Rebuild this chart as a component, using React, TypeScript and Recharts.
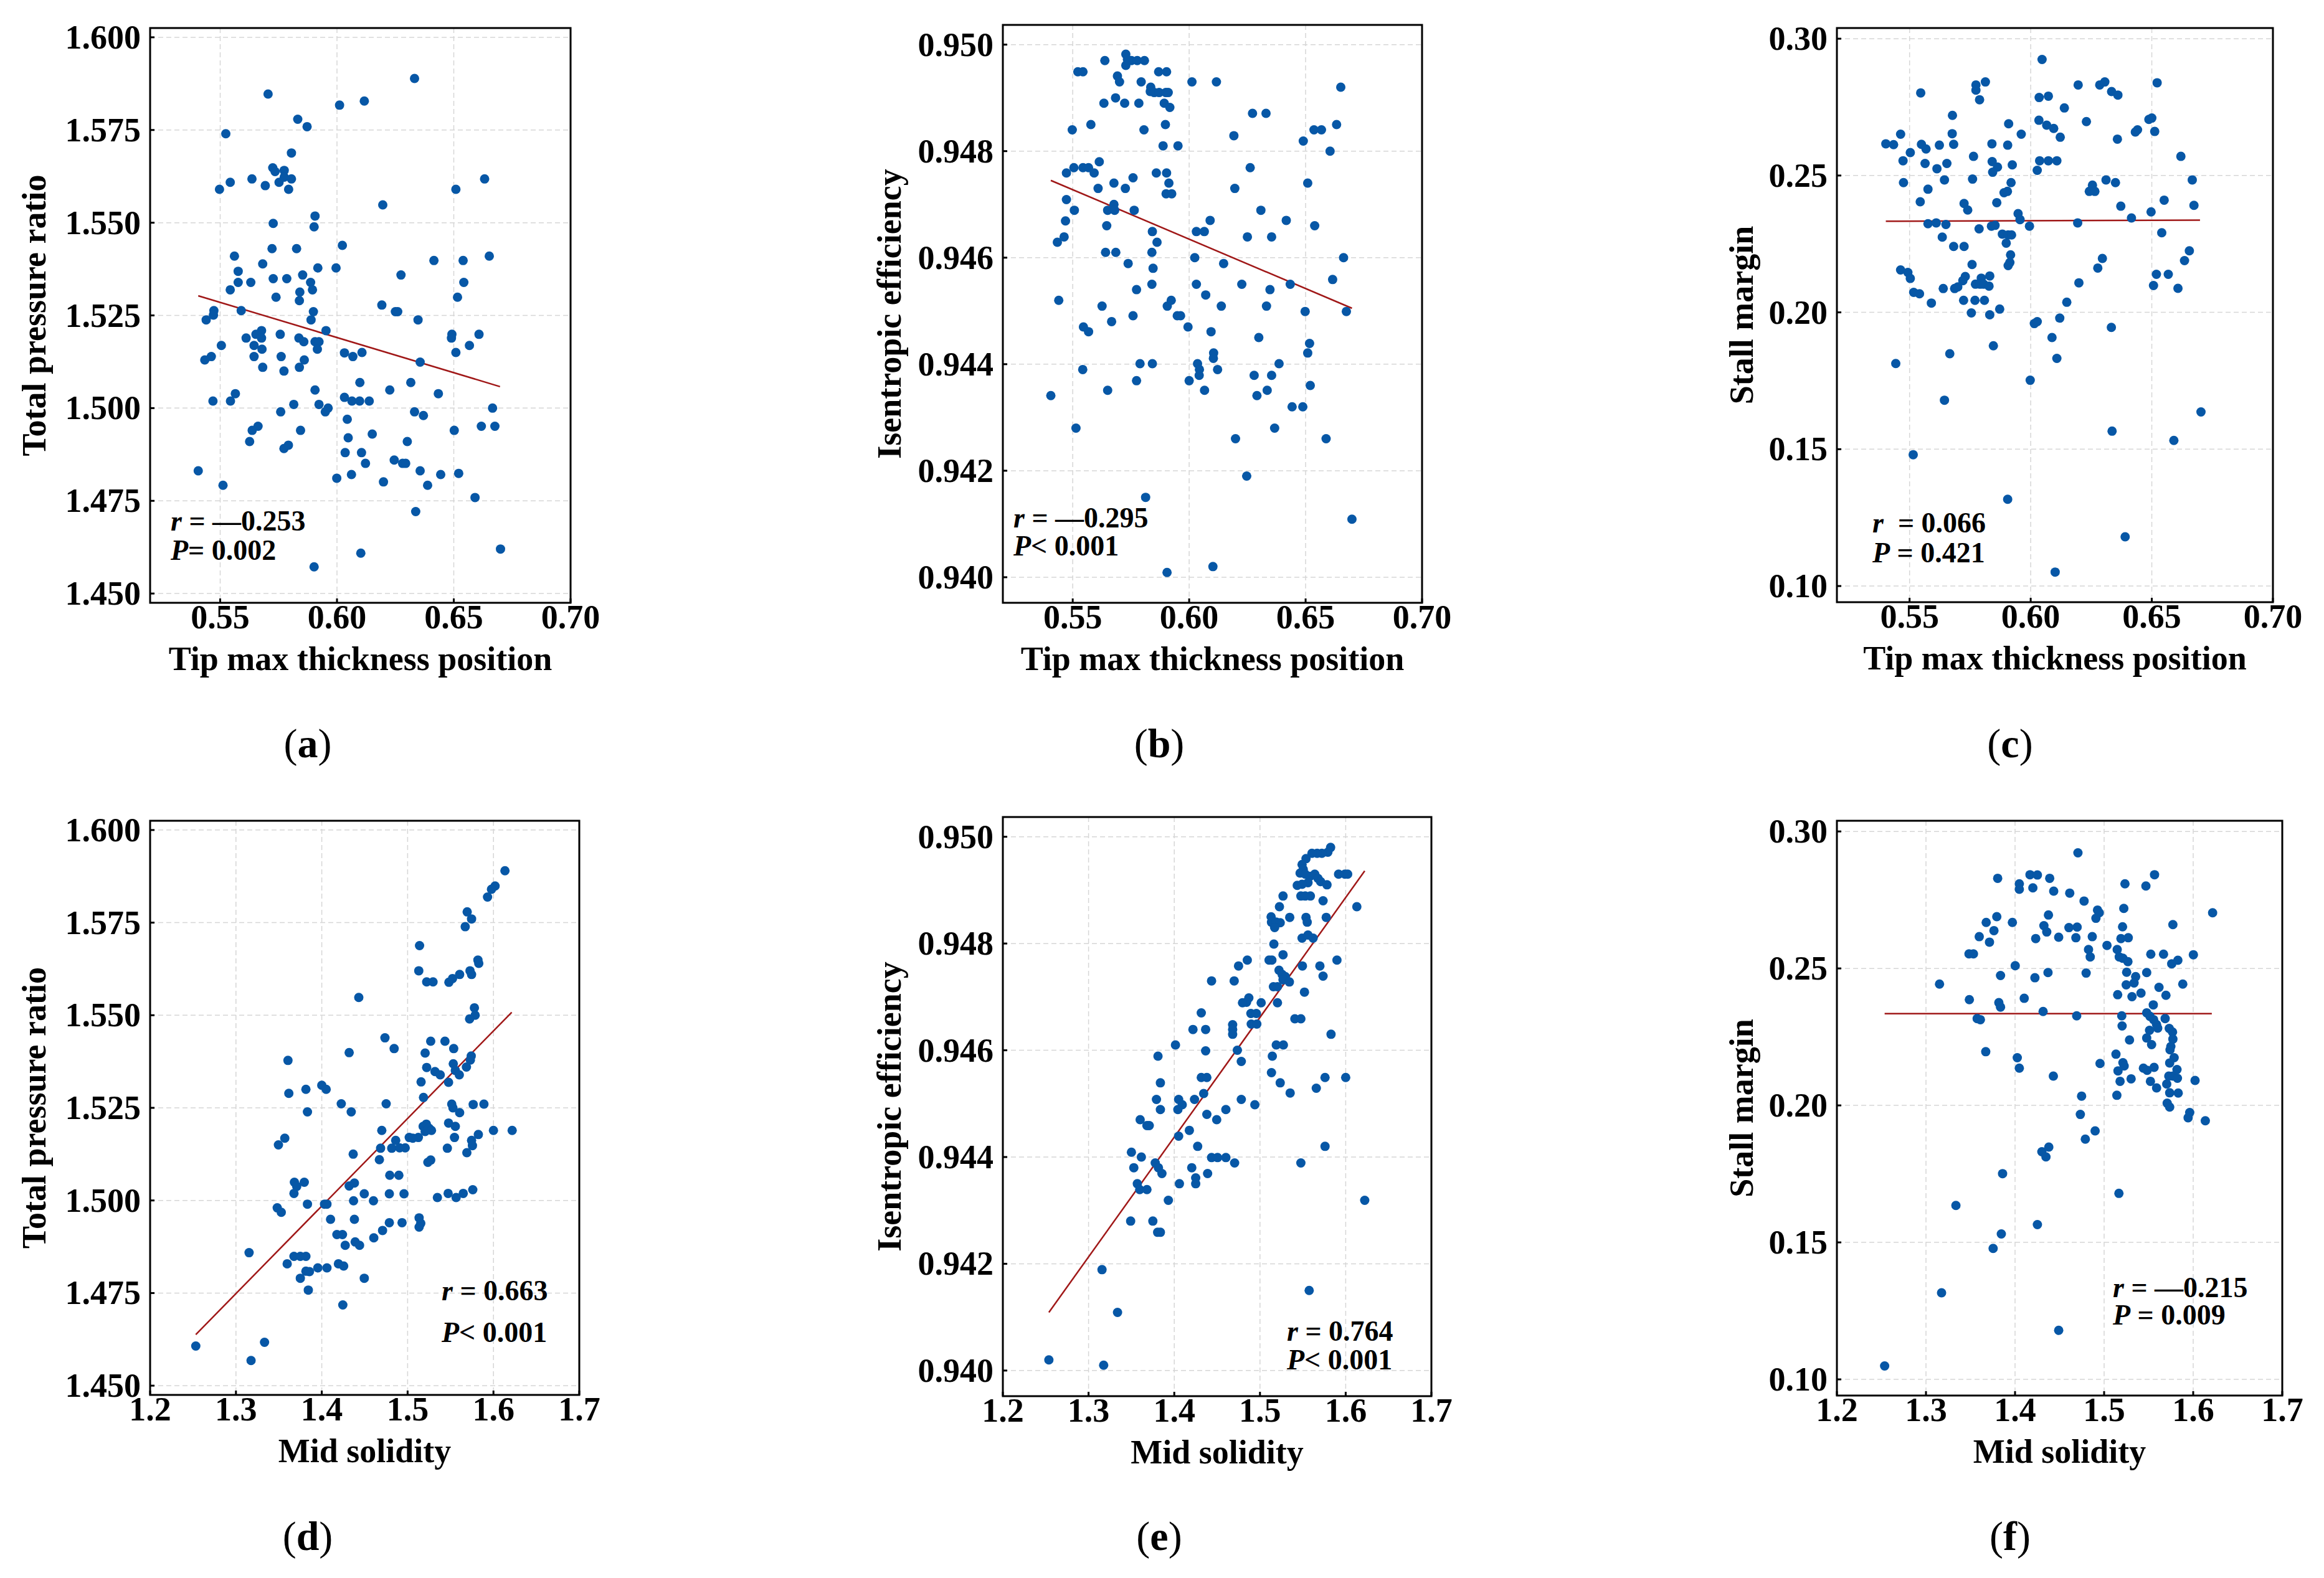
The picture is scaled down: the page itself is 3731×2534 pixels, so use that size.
import React from "react";
import {
  CartesianGrid,
  ReferenceArea,
  ReferenceLine,
  Scatter,
  ScatterChart,
  XAxis,
  YAxis,
} from "recharts";

const FONT = "'Liberation Serif', 'Times New Roman', serif";
const DOT = "#0757a6";
const FIT = "#a01818";

type Pt = [number, number];

// axis ticks
const tipTicks = [0.55, 0.6, 0.65, 0.7];
const solidityTicks = [1.2, 1.3, 1.4, 1.5, 1.6, 1.7];
const tprTicks = [1.45, 1.475, 1.5, 1.525, 1.55, 1.575, 1.6];
const effTicks = [0.94, 0.942, 0.944, 0.946, 0.948, 0.95];
const smTicks = [0.1, 0.15, 0.2, 0.25, 0.3];

// (a) tip max thickness position vs total pressure ratio
const tipTpr: Pt[] = [
  [0.6332, 1.5889], [0.5705, 1.5847], [0.6011, 1.5817], [0.6117, 1.5828], [0.5832, 1.5779], [0.5872, 1.5759],
  [0.5524, 1.574], [0.5805, 1.5688], [0.5725, 1.5648], [0.5735, 1.5638], [0.5774, 1.5641], [0.5752, 1.5609],
  [0.5774, 1.5623], [0.5805, 1.5618], [0.5636, 1.5618], [0.5543, 1.5609], [0.5497, 1.559], [0.5693, 1.56],
  [0.5793, 1.559], [0.6632, 1.5618], [0.6509, 1.559], [0.6196, 1.5548], [0.5906, 1.5518], [0.5902, 1.5489],
  [0.5727, 1.5498], [0.6023, 1.5439], [0.5722, 1.543], [0.5827, 1.543], [0.5561, 1.541], [0.6652, 1.541],
  [0.6415, 1.5398], [0.654, 1.5398], [0.5682, 1.5389], [0.5577, 1.5369], [0.5918, 1.5378], [0.5996, 1.5378],
  [0.6274, 1.5359], [0.5853, 1.5359], [0.5727, 1.5349], [0.5785, 1.5349], [0.5577, 1.5339], [0.5631, 1.5339],
  [0.5887, 1.5339], [0.6543, 1.5339], [0.5543, 1.5319], [0.5841, 1.5313], [0.5895, 1.5319], [0.5739, 1.5299],
  [0.5839, 1.529], [0.6516, 1.5299], [0.6192, 1.5278], [0.559, 1.5263], [0.5473, 1.5263], [0.5471, 1.5251],
  [0.544, 1.5238], [0.5899, 1.526], [0.625, 1.526], [0.626, 1.526], [0.6347, 1.5238], [0.5889, 1.5238],
  [0.5953, 1.5209], [0.5677, 1.5209], [0.5653, 1.5199], [0.5757, 1.5199], [0.5611, 1.5189], [0.5677, 1.5189],
  [0.5837, 1.5189], [0.5858, 1.5179], [0.5906, 1.5179], [0.5923, 1.5179], [0.6492, 1.5199], [0.649, 1.5189],
  [0.6608, 1.5199], [0.5505, 1.5169], [0.5645, 1.5169], [0.5679, 1.5159], [0.5916, 1.5159], [0.6567, 1.5169],
  [0.6509, 1.515], [0.6032, 1.5149], [0.6068, 1.5139], [0.6107, 1.515], [0.5462, 1.5139], [0.5434, 1.513],
  [0.5645, 1.5139], [0.5761, 1.5139], [0.586, 1.513], [0.6356, 1.5124], [0.5682, 1.511], [0.5839, 1.511],
  [0.5773, 1.51], [0.6098, 1.5069], [0.6316, 1.5069], [0.5906, 1.5049], [0.6226, 1.5049], [0.6434, 1.5039],
  [0.5565, 1.5039], [0.5544, 1.5019], [0.5469, 1.5019], [0.6032, 1.5029], [0.6064, 1.5019], [0.6097, 1.5019],
  [0.6138, 1.5019], [0.5923, 1.501], [0.5815, 1.501], [0.5962, 1.5], [0.595, 1.499], [0.5759, 1.499],
  [0.6332, 1.499], [0.637, 1.498], [0.6666, 1.5], [0.6044, 1.497], [0.5662, 1.4951], [0.5637, 1.494],
  [0.5844, 1.494], [0.6502, 1.494], [0.6618, 1.4951], [0.6676, 1.4951], [0.6151, 1.493], [0.6048, 1.492],
  [0.5626, 1.491], [0.6301, 1.491], [0.5773, 1.4891], [0.5792, 1.49], [0.6035, 1.488], [0.6105, 1.488],
  [0.6245, 1.486], [0.6281, 1.4851], [0.6294, 1.4851], [0.6122, 1.4851], [0.5406, 1.4831], [0.6356, 1.4831],
  [0.6062, 1.4821], [0.6444, 1.4821], [0.6521, 1.4824], [0.5999, 1.4811], [0.6199, 1.4801], [0.5512, 1.4792],
  [0.6388, 1.4792], [0.6591, 1.4759], [0.6337, 1.4721], [0.6102, 1.4609], [0.67, 1.462], [0.5902, 1.4572],
];

// (b) tip max thickness position vs isentropic efficiency
const tipEff: Pt[] = [
  [0.5728, 0.94982], [0.5638, 0.9497], [0.5728, 0.94961], [0.5752, 0.9497], [0.5777, 0.9497], [0.5808, 0.9497],
  [0.5735, 0.94972], [0.5522, 0.94949], [0.5544, 0.94949], [0.5869, 0.94949], [0.5903, 0.94949], [0.5692, 0.94941],
  [0.5701, 0.9493], [0.5794, 0.9493], [0.5835, 0.9492], [0.5833, 0.94912], [0.585, 0.9491], [0.5871, 0.9491],
  [0.59, 0.9491], [0.591, 0.9491], [0.6012, 0.9493], [0.6117, 0.9493], [0.6651, 0.9492], [0.5634, 0.9489],
  [0.5684, 0.949], [0.5723, 0.9489], [0.5784, 0.9489], [0.5893, 0.9489], [0.5917, 0.94882], [0.5498, 0.9484],
  [0.5578, 0.9485], [0.5806, 0.9484], [0.5898, 0.9485], [0.6272, 0.94871], [0.633, 0.94871], [0.6192, 0.94829],
  [0.649, 0.94819], [0.6536, 0.9484], [0.6568, 0.9484], [0.6633, 0.9485], [0.5888, 0.9481], [0.5952, 0.9481],
  [0.6605, 0.948], [0.5614, 0.9478], [0.5473, 0.94759], [0.5505, 0.94769], [0.5544, 0.94769], [0.5568, 0.94769],
  [0.5592, 0.94759], [0.6262, 0.94769], [0.5859, 0.94759], [0.5903, 0.94759], [0.5677, 0.9474], [0.5759, 0.9475],
  [0.5726, 0.9473], [0.5609, 0.9473], [0.5913, 0.9474], [0.5901, 0.9472], [0.5925, 0.9472], [0.6196, 0.9473],
  [0.6509, 0.9474], [0.5473, 0.94709], [0.5507, 0.94689], [0.5469, 0.94669], [0.5764, 0.94689], [0.5677, 0.947],
  [0.565, 0.94689], [0.568, 0.94689], [0.6308, 0.94689], [0.609, 0.9467], [0.6417, 0.9467], [0.5646, 0.9466],
  [0.5842, 0.94649], [0.6031, 0.94649], [0.6065, 0.94649], [0.5434, 0.94629], [0.5463, 0.94639], [0.625, 0.94639],
  [0.6354, 0.94639], [0.6539, 0.9466], [0.5641, 0.9461], [0.5685, 0.9461], [0.584, 0.9461], [0.5862, 0.94629],
  [0.6024, 0.946], [0.6663, 0.946], [0.5738, 0.94589], [0.6148, 0.94589], [0.5845, 0.9458], [0.6616, 0.94559],
  [0.584, 0.9455], [0.6031, 0.9455], [0.6226, 0.9455], [0.6434, 0.9455], [0.5774, 0.9454], [0.6347, 0.9454],
  [0.6071, 0.9453], [0.544, 0.9452], [0.5626, 0.94509], [0.5906, 0.94509], [0.5923, 0.9452], [0.6138, 0.94509],
  [0.6332, 0.94509], [0.6498, 0.94499], [0.6675, 0.94499], [0.5759, 0.94491], [0.5949, 0.94491], [0.5963, 0.94491],
  [0.5667, 0.9448], [0.5546, 0.9447], [0.5568, 0.94461], [0.5995, 0.9447], [0.6094, 0.94461], [0.6299, 0.9445],
  [0.6517, 0.94439], [0.6509, 0.94421], [0.6105, 0.94421], [0.6104, 0.94411], [0.5789, 0.94401], [0.5842, 0.94401],
  [0.6036, 0.94401], [0.6386, 0.94401], [0.5543, 0.9439], [0.6044, 0.9439], [0.6122, 0.9439], [0.6279, 0.94379],
  [0.6354, 0.94379], [0.6043, 0.94379], [0.5774, 0.94369], [0.6, 0.94369], [0.652, 0.9436], [0.565, 0.94351],
  [0.6066, 0.94351], [0.6335, 0.94351], [0.5406, 0.94341], [0.6291, 0.94341], [0.6442, 0.9432], [0.6488, 0.9432],
  [0.5514, 0.9428], [0.6367, 0.9428], [0.6199, 0.9426], [0.6588, 0.9426], [0.6247, 0.9419], [0.5813, 0.9415],
  [0.6699, 0.94109], [0.5905, 0.94009], [0.6102, 0.9402],
];

// (c) tip max thickness position vs stall margin
const tipSm: Pt[] = [
  [0.6047, 0.2924], [0.6196, 0.2831], [0.5813, 0.2842], [0.5774, 0.2831], [0.5774, 0.2812], [0.5789, 0.2777],
  [0.5546, 0.2802], [0.6285, 0.2831], [0.6306, 0.2842], [0.6522, 0.2839], [0.6334, 0.2807], [0.636, 0.2794],
  [0.6035, 0.2785], [0.6073, 0.279], [0.6139, 0.2747], [0.5677, 0.272], [0.623, 0.2697], [0.5909, 0.2689],
  [0.6034, 0.2702], [0.6066, 0.2684], [0.6095, 0.2672], [0.65, 0.271], [0.6488, 0.2705], [0.6512, 0.2661],
  [0.6441, 0.2667], [0.6432, 0.2659], [0.5463, 0.2651], [0.5676, 0.2653], [0.5961, 0.2651], [0.5402, 0.2616],
  [0.5434, 0.2613], [0.5549, 0.2614], [0.5568, 0.2597], [0.5623, 0.2611], [0.5682, 0.2614], [0.584, 0.2616],
  [0.5905, 0.2611], [0.6122, 0.264], [0.6358, 0.2633], [0.5503, 0.2584], [0.5473, 0.2554], [0.5564, 0.2544],
  [0.5654, 0.2544], [0.5764, 0.257], [0.5841, 0.2551], [0.5863, 0.2531], [0.5924, 0.2539], [0.6037, 0.2554],
  [0.6073, 0.2554], [0.6108, 0.2554], [0.662, 0.257], [0.5613, 0.2525], [0.6027, 0.2519], [0.5843, 0.2512],
  [0.5644, 0.2484], [0.5475, 0.2474], [0.576, 0.2487], [0.5919, 0.2474], [0.6311, 0.2484], [0.635, 0.2474],
  [0.6667, 0.2484], [0.5576, 0.245], [0.6255, 0.2465], [0.6242, 0.2442], [0.6265, 0.2442], [0.589, 0.2437],
  [0.5904, 0.2442], [0.5544, 0.2404], [0.5725, 0.2398], [0.574, 0.2374], [0.586, 0.2401], [0.6372, 0.2388],
  [0.6551, 0.241], [0.6674, 0.2391], [0.5948, 0.2361], [0.5956, 0.2339], [0.6416, 0.2345], [0.6497, 0.2367],
  [0.5576, 0.2324], [0.561, 0.2327], [0.565, 0.2321], [0.5838, 0.2315], [0.5853, 0.2318], [0.5995, 0.2315],
  [0.6194, 0.2327], [0.5787, 0.2305], [0.6541, 0.2291], [0.5635, 0.2275], [0.5883, 0.2286], [0.5907, 0.2283],
  [0.5921, 0.2283], [0.5899, 0.2253], [0.5682, 0.2241], [0.5725, 0.2241], [0.5917, 0.221], [0.5914, 0.2182],
  [0.5907, 0.2171], [0.5758, 0.2175], [0.6655, 0.2225], [0.6296, 0.2197], [0.6277, 0.2162], [0.6635, 0.2189],
  [0.5463, 0.2155], [0.5493, 0.2146], [0.5503, 0.2124], [0.6519, 0.2139], [0.6568, 0.2139], [0.573, 0.2131],
  [0.572, 0.2116], [0.5796, 0.2125], [0.5831, 0.2133], [0.5772, 0.2103], [0.5791, 0.2103], [0.5806, 0.2103],
  [0.5828, 0.2096], [0.6199, 0.2108], [0.6507, 0.2098], [0.5517, 0.2073], [0.5541, 0.2068], [0.5639, 0.2087],
  [0.5686, 0.2087], [0.5699, 0.2093], [0.6608, 0.2088], [0.559, 0.2034], [0.5723, 0.2044], [0.577, 0.2044],
  [0.5809, 0.2044], [0.6149, 0.2037], [0.5755, 0.1998], [0.5831, 0.1991], [0.5872, 0.2012], [0.612, 0.1979],
  [0.6015, 0.1959], [0.6027, 0.1966], [0.6333, 0.1945], [0.6088, 0.1908], [0.5846, 0.1878], [0.6108, 0.1832],
  [0.5443, 0.1813], [0.5666, 0.1849], [0.5998, 0.1752], [0.5644, 0.1679], [0.6703, 0.1636], [0.6336, 0.1566],
  [0.6591, 0.1532], [0.5515, 0.148], [0.5905, 0.1317], [0.639, 0.118], [0.6101, 0.1051],
];

// (d) mid solidity vs total pressure ratio
const solTpr: Pt[] = [
  [1.6134, 1.589], [1.6019, 1.5849], [1.5977, 1.584], [1.5931, 1.5819], [1.5694, 1.5779], [1.5745, 1.576],
  [1.5671, 1.5739], [1.5139, 1.5688], [1.5819, 1.5649], [1.5829, 1.564], [1.5727, 1.562], [1.5745, 1.561],
  [1.513, 1.562], [1.5222, 1.559], [1.5296, 1.559], [1.5481, 1.5589], [1.5523, 1.5599], [1.5606, 1.561],
  [1.4431, 1.5548], [1.5778, 1.552], [1.5787, 1.55], [1.5722, 1.549], [1.4736, 1.5439], [1.4843, 1.541],
  [1.5269, 1.543], [1.5435, 1.543], [1.5537, 1.541], [1.4319, 1.5399], [1.5204, 1.5398], [1.5741, 1.539],
  [1.5731, 1.5379], [1.5222, 1.5359], [1.5319, 1.5348], [1.538, 1.5339], [1.5532, 1.5369], [1.5556, 1.5351],
  [1.5602, 1.5339], [1.5685, 1.536], [1.5477, 1.5319], [1.5157, 1.532], [1.5185, 1.5278], [1.3606, 1.5378],
  [1.3616, 1.5289], [1.3815, 1.53], [1.4, 1.5311], [1.4051, 1.53], [1.4227, 1.5261], [1.4343, 1.5239],
  [1.475, 1.5261], [1.5514, 1.526], [1.5528, 1.525], [1.5764, 1.5259], [1.5889, 1.526], [1.3833, 1.5239],
  [1.5606, 1.5237], [1.4699, 1.5189], [1.5181, 1.52], [1.5218, 1.5206], [1.525, 1.5195], [1.5204, 1.5186],
  [1.5278, 1.5189], [1.5125, 1.517], [1.5477, 1.5209], [1.5556, 1.52], [1.6218, 1.5189], [1.6, 1.5189],
  [1.5824, 1.5178], [1.3569, 1.5168], [1.3495, 1.515], [1.5019, 1.517], [1.506, 1.5168], [1.5546, 1.517],
  [1.5745, 1.5162], [1.5755, 1.5148], [1.569, 1.5129], [1.4366, 1.5125], [1.4685, 1.5141], [1.4815, 1.5141],
  [1.4861, 1.5162], [1.4907, 1.5142], [1.4972, 1.5142], [1.5463, 1.5141], [1.4671, 1.511], [1.5236, 1.5103],
  [1.5269, 1.5109], [1.4792, 1.5068], [1.4898, 1.5068], [1.4319, 1.5039], [1.438, 1.5047], [1.3681, 1.5049],
  [1.3708, 1.5038], [1.3796, 1.5049], [1.3676, 1.5019], [1.5347, 1.5008], [1.5472, 1.5019], [1.5565, 1.5008],
  [1.5648, 1.5019], [1.5759, 1.5029], [1.4495, 1.5018], [1.4958, 1.5018], [1.4787, 1.5018], [1.3481, 1.498],
  [1.3528, 1.4968], [1.3833, 1.499], [1.4032, 1.499], [1.406, 1.499], [1.437, 1.4999], [1.4602, 1.4999],
  [1.4102, 1.4949], [1.438, 1.4949], [1.5134, 1.4953], [1.5153, 1.4938], [1.5134, 1.4928], [1.4708, 1.4919],
  [1.4787, 1.494], [1.4935, 1.494], [1.4176, 1.4908], [1.4241, 1.4908], [1.4606, 1.4899], [1.4389, 1.4888],
  [1.4273, 1.4879], [1.444, 1.4879], [1.3153, 1.4859], [1.3597, 1.4829], [1.3676, 1.4849], [1.375, 1.4849],
  [1.3815, 1.4849], [1.3954, 1.4818], [1.406, 1.4818], [1.4194, 1.4829], [1.4255, 1.4823], [1.3815, 1.4809],
  [1.375, 1.479], [1.3856, 1.4808], [1.4495, 1.479], [1.3843, 1.4758], [1.4245, 1.4718], [1.3333, 1.4617],
  [1.2532, 1.4607], [1.3176, 1.4568],
];

// (e) mid solidity vs isentropic efficiency
const solEff: Pt[] = [
  [1.5824, 0.9498], [1.5792, 0.94971], [1.5722, 0.94969], [1.5667, 0.94969], [1.5606, 0.94969], [1.5537, 0.94959],
  [1.5491, 0.94948], [1.5505, 0.94939], [1.5468, 0.94932], [1.5528, 0.9493], [1.5583, 0.94926], [1.5639, 0.9493],
  [1.5676, 0.94922], [1.5708, 0.94916], [1.5782, 0.9491], [1.556, 0.94914], [1.5435, 0.94909], [1.5491, 0.94911],
  [1.5917, 0.9493], [1.5991, 0.9493], [1.6023, 0.9493], [1.5269, 0.94889], [1.5477, 0.94889], [1.5528, 0.94889],
  [1.5588, 0.94889], [1.5736, 0.9488], [1.5227, 0.94869], [1.513, 0.9485], [1.5347, 0.94849], [1.5134, 0.9484],
  [1.519, 0.9484], [1.5236, 0.94839], [1.5171, 0.9483], [1.5537, 0.94849], [1.5551, 0.9484], [1.5773, 0.94849],
  [1.613, 0.94869], [1.5491, 0.9481], [1.556, 0.94816], [1.562, 0.9481], [1.5162, 0.94799], [1.5106, 0.94769],
  [1.5139, 0.94769], [1.5269, 0.94779], [1.4852, 0.94769], [1.475, 0.94758], [1.5495, 0.94758], [1.5699, 0.94758],
  [1.5898, 0.94769], [1.5222, 0.9475], [1.5259, 0.94742], [1.5296, 0.94738], [1.5269, 0.94732], [1.5343, 0.94728],
  [1.5736, 0.94739], [1.4435, 0.9473], [1.4699, 0.9473], [1.5157, 0.94719], [1.5204, 0.94719], [1.5519, 0.94709],
  [1.487, 0.94698], [1.4843, 0.9469], [1.4796, 0.94689], [1.4894, 0.94669], [1.4958, 0.94669], [1.5014, 0.94689],
  [1.5204, 0.94689], [1.4898, 0.94649], [1.4963, 0.94649], [1.4315, 0.9467], [1.5407, 0.94659], [1.5477, 0.94659],
  [1.519, 0.9461], [1.5273, 0.9461], [1.4218, 0.94639], [1.4366, 0.94639], [1.4681, 0.94648], [1.4681, 0.94639],
  [1.4681, 0.9463], [1.4014, 0.9461], [1.5829, 0.9463], [1.4366, 0.94599], [1.4736, 0.946], [1.4782, 0.94579],
  [1.381, 0.94589], [1.5144, 0.94589], [1.5134, 0.94558], [1.4315, 0.94549], [1.438, 0.94549], [1.5236, 0.94539],
  [1.5352, 0.9452], [1.5657, 0.94529], [1.5759, 0.94549], [1.6, 0.94549], [1.3838, 0.94539], [1.4343, 0.94519],
  [1.4051, 0.94508], [1.4093, 0.94498], [1.4236, 0.94508], [1.3792, 0.94508], [1.3838, 0.94489], [1.4782, 0.94508],
  [1.494, 0.94498], [1.4042, 0.94489], [1.4602, 0.94489], [1.438, 0.9448], [1.4495, 0.9447], [1.3602, 0.9447],
  [1.3708, 0.94459], [1.3681, 0.94459], [1.4176, 0.9445], [1.4051, 0.94439], [1.4273, 0.9442], [1.35, 0.94409],
  [1.3616, 0.944], [1.3528, 0.9438], [1.4435, 0.94399], [1.4505, 0.94399], [1.4602, 0.94399], [1.4704, 0.94389],
  [1.3778, 0.94389], [1.3815, 0.9438], [1.3856, 0.94369], [1.4204, 0.9438], [1.3931, 0.94319], [1.406, 0.9435],
  [1.4389, 0.94369], [1.425, 0.94361], [1.425, 0.9435], [1.3569, 0.9435], [1.3597, 0.94339], [1.3681, 0.94339],
  [1.5477, 0.94389], [1.5759, 0.9442], [1.6222, 0.94319], [1.3491, 0.9428], [1.375, 0.9428], [1.3806, 0.94259],
  [1.3838, 0.94259], [1.3157, 0.94189], [1.5574, 0.9415], [1.3338, 0.94109], [1.2537, 0.9402], [1.3176, 0.9401],
];

// (f) mid solidity vs stall margin
const solSm: Pt[] = [
  [1.4706, 0.2922], [1.4168, 0.2842], [1.4251, 0.2841], [1.4389, 0.2829], [1.5566, 0.2842], [1.3805, 0.2829],
  [1.4048, 0.2809], [1.4048, 0.2789], [1.42, 0.2794], [1.4434, 0.2782], [1.5234, 0.2809], [1.5469, 0.2801],
  [1.4614, 0.2775], [1.4775, 0.2746], [1.5221, 0.2719], [1.4926, 0.2713], [1.4945, 0.2703], [1.4908, 0.2683],
  [1.6218, 0.2703], [1.4375, 0.2695], [1.3676, 0.2668], [1.397, 0.2668], [1.3795, 0.2689], [1.3763, 0.2638],
  [1.5772, 0.266], [1.4324, 0.2656], [1.4356, 0.2633], [1.4605, 0.2649], [1.4697, 0.2651], [1.3598, 0.2616],
  [1.3713, 0.2596], [1.4232, 0.2609], [1.449, 0.2614], [1.4683, 0.2612], [1.4867, 0.2616], [1.5207, 0.2652],
  [1.5189, 0.2609], [1.5271, 0.2612], [1.5032, 0.2584], [1.4825, 0.2569], [1.4844, 0.2542], [1.5147, 0.2569],
  [1.517, 0.2542], [1.5211, 0.2537], [1.5267, 0.2525], [1.3483, 0.2553], [1.3533, 0.2553], [1.5524, 0.2552],
  [1.5667, 0.2552], [1.6002, 0.255], [1.5828, 0.253], [1.5759, 0.2517], [1.4002, 0.251], [1.3837, 0.2474],
  [1.4223, 0.2466], [1.437, 0.2485], [1.4798, 0.2483], [1.5253, 0.2486], [1.5478, 0.2485], [1.5354, 0.247],
  [1.5336, 0.2447], [1.5248, 0.244], [1.5883, 0.2443], [1.5616, 0.2431], [1.3152, 0.2443], [1.5414, 0.241],
  [1.5313, 0.2397], [1.5152, 0.2404], [1.5694, 0.2402], [1.4103, 0.2391], [1.3487, 0.2386], [1.3818, 0.2375],
  [1.3837, 0.2359], [1.4315, 0.2343], [1.5552, 0.2367], [1.5478, 0.2338], [1.5515, 0.2325], [1.4692, 0.2327],
  [1.5198, 0.2327], [1.5556, 0.2313], [1.5589, 0.2295], [1.5602, 0.2282], [1.5685, 0.2317], [1.5731, 0.2281],
  [1.5768, 0.2268], [1.5772, 0.2242], [1.3575, 0.2317], [1.3611, 0.2313], [1.5202, 0.229], [1.551, 0.2274],
  [1.5533, 0.2222], [1.5478, 0.2246], [1.5285, 0.2239], [1.3671, 0.2196], [1.5133, 0.2187], [1.5211, 0.2156],
  [1.5225, 0.2144], [1.5156, 0.2126], [1.5179, 0.2088], [1.5303, 0.2097], [1.5749, 0.2215], [1.574, 0.2203],
  [1.5786, 0.2174], [1.5736, 0.2155], [1.5818, 0.2131], [1.5441, 0.2136], [1.5483, 0.2128], [1.5561, 0.2139],
  [1.552, 0.2088], [1.5726, 0.2107], [1.5772, 0.2107], [1.5823, 0.2099], [1.6021, 0.2091], [1.5589, 0.2064],
  [1.5703, 0.2078], [1.5736, 0.2046], [1.5832, 0.2045], [1.5708, 0.2008], [1.5736, 0.1994], [1.5143, 0.2037],
  [1.4954, 0.2153], [1.4025, 0.2174], [1.4048, 0.2136], [1.443, 0.2107], [1.4747, 0.2034], [1.4733, 0.1967],
  [1.5943, 0.1955], [1.5961, 0.1974], [1.6136, 0.1944], [1.4899, 0.1907], [1.4789, 0.1877], [1.4301, 0.1831],
  [1.4379, 0.1848], [1.4347, 0.1812], [1.386, 0.1751], [1.3336, 0.1635], [1.5166, 0.1679], [1.4251, 0.1565],
  [1.3846, 0.1531], [1.3754, 0.1478], [1.3175, 0.1316], [1.449, 0.1179], [1.2536, 0.1049],
];

// fitted lines, two end points each
const fitA: Pt[] = [[0.5406, 1.5303], [0.6698, 1.5058]];
const fitB: Pt[] = [[0.5406, 0.94745], [0.6699, 0.94505]];
const fitC: Pt[] = [[0.5402, 0.2333], [0.6699, 0.2337]];
const fitD: Pt[] = [[1.2532, 1.4638], [1.6213, 1.5508]];
const fitE: Pt[] = [[1.2537, 0.94109], [1.6222, 0.94936]];
const fitF: Pt[] = [[1.2536, 0.2335], [1.6209, 0.2335]];

// correlation labels
const statR = ["= \u20140.253", "= \u20140.295", " = 0.066", "= 0.663", "= 0.764", "= \u20140.215"];
const statP = ["= 0.002", "< 0.001", " = 0.421", "< 0.001", "< 0.001", " = 0.009"];
const letters = ["a", "b", "c", "d", "e", "f"];

type PanelDef = {
  data: Pt[];
  fit: Pt[];
  xTicks: number[];
  xDomain: [number, number];
  xDigits: number;
  xTitle: string;
  yTicks: number[];
  yDomain: [number, number];
  yDigits: number;
  yTitle: string;
  // plot-area box on the page
  pl: number;
  pr: number;
  pt: number;
  pb: number;
  titleX: number;
  // stats text
  sx: number;
  sy: number;
  sGap: number;
  lx: number;
  ly: number;
};

const TIP = "Tip max thickness position";
const SOL = "Mid solidity";
const tipDom: [number, number] = [0.52, 0.7];
const solDom: [number, number] = [1.2, 1.7];
const tprDom: [number, number] = [1.4475, 1.6025];
const effDom: [number, number] = [0.93952, 0.95037];
const smDom: [number, number] = [0.0941, 0.3039];

const panels: PanelDef[] = [
  { data: tipTpr, fit: fitA, xTicks: tipTicks, xDomain: tipDom, xDigits: 2, xTitle: TIP, yTicks: tprTicks, yDomain: tprDom, yDigits: 3, yTitle: "Total pressure ratio", pl: 241, pr: 916, pt: 45, pb: 968, titleX: 54, sx: 274, sy: 852, sGap: 47, lx: 494, ly: 1216 },
  { data: tipEff, fit: fitB, xTicks: tipTicks, xDomain: tipDom, xDigits: 2, xTitle: TIP, yTicks: effTicks, yDomain: effDom, yDigits: 3, yTitle: "Isentropic efficiency", pl: 1610, pr: 2283, pt: 40, pb: 968, titleX: 1427, sx: 1627, sy: 847, sGap: 45, lx: 1861, ly: 1216 },
  { data: tipSm, fit: fitC, xTicks: tipTicks, xDomain: tipDom, xDigits: 2, xTitle: TIP, yTicks: smTicks, yDomain: smDom, yDigits: 2, yTitle: "Stall margin", pl: 2949, pr: 3649, pt: 45, pb: 967, titleX: 2795, sx: 3006, sy: 855, sGap: 48, lx: 3227, ly: 1216 },
  { data: solTpr, fit: fitD, xTicks: solidityTicks, xDomain: solDom, xDigits: 1, xTitle: SOL, yTicks: tprTicks, yDomain: tprDom, yDigits: 3, yTitle: "Total pressure ratio", pl: 241, pr: 930, pt: 1318, pb: 2240, titleX: 54, sx: 709, sy: 2088, sGap: 67, lx: 494, ly: 2489 },
  { data: solEff, fit: fitE, xTicks: solidityTicks, xDomain: solDom, xDigits: 1, xTitle: SOL, yTicks: effTicks, yDomain: effDom, yDigits: 3, yTitle: "Isentropic efficiency", pl: 1610, pr: 2298, pt: 1312, pb: 2242, titleX: 1427, sx: 2066, sy: 2153, sGap: 46, lx: 1861, ly: 2489 },
  { data: solSm, fit: fitF, xTicks: solidityTicks, xDomain: solDom, xDigits: 1, xTitle: SOL, yTicks: smTicks, yDomain: smDom, yDigits: 2, yTitle: "Stall margin", pl: 2949, pr: 3664, pt: 1318, pb: 2241, titleX: 2795, sx: 3392, sy: 2083, sGap: 44, lx: 3227, ly: 2489 },
];

const TICK_FS = 54;
const X_AXIS_H = 140;
const M_TOP = 40;
const M_RIGHT = 70;

function makeYTick(digits: number) {
  return (props: any) => {
    const { x, y, payload } = props;
    return (
      <g>
        <line x1={x} x2={x + 7} y1={y} y2={y} stroke="#000" strokeWidth={3} />
        <text x={x - 15} y={y + 18} textAnchor="end" fontFamily={FONT} fontWeight="bold" fontSize={TICK_FS} fill="#000">
          {Number(payload.value).toFixed(digits)}
        </text>
      </g>
    );
  };
}

function makeXTick(digits: number) {
  return (props: any) => {
    const { x, y, payload } = props;
    return (
      <g>
        <line x1={x} x2={x} y1={y} y2={y - 7} stroke="#000" strokeWidth={3} />
        <text x={x} y={y + 41} textAnchor="middle" fontFamily={FONT} fontWeight="bold" fontSize={TICK_FS} fill="#000">
          {Number(payload.value).toFixed(digits)}
        </text>
      </g>
    );
  };
}

const dotShape = (props: any) => <circle cx={props.cx} cy={props.cy} r={7.5} fill={DOT} />;

function Panel({ p }: { p: PanelDef }) {
  const left = p.titleX - 40;
  const top = p.pt - M_TOP;
  const width = p.pr - left + M_RIGHT;
  const height = p.pb - p.pt + M_TOP + X_AXIS_H;
  const points = p.data.map(([x, y]) => ({ x, y }));
  const titleStyle = { fontFamily: FONT, fontWeight: "bold", fontSize: TICK_FS, fill: "#000" };

  return (
    <div style={{ position: "absolute", left, top }}>
      <ScatterChart width={width} height={height} margin={{ top: M_TOP, right: M_RIGHT, bottom: 0, left: 0 }}>
        <CartesianGrid stroke="#d6d6d6" strokeWidth={1.5} strokeDasharray="8 5" />
        <XAxis
          type="number"
          dataKey="x"
          domain={p.xDomain}
          ticks={p.xTicks}
          interval={0}
          allowDataOverflow
          height={X_AXIS_H}
          axisLine={false}
          tickLine={false}
          tickSize={0}
          tickMargin={0}
          tick={makeXTick(p.xDigits)}
          label={{ value: p.xTitle, position: "insideBottom", offset: 32, style: { ...titleStyle, textAnchor: "middle" } }}
        />
        <YAxis
          type="number"
          dataKey="y"
          domain={p.yDomain}
          ticks={p.yTicks}
          interval={0}
          allowDataOverflow
          width={p.pl - left}
          axisLine={false}
          tickLine={false}
          tickSize={0}
          tickMargin={0}
          tick={makeYTick(p.yDigits)}
          label={{ value: p.yTitle, angle: -90, position: "insideLeft", offset: 40, style: { ...titleStyle, textAnchor: "middle" } }}
        />
        <ReferenceArea
          x1={p.xDomain[0]}
          x2={p.xDomain[1]}
          y1={p.yDomain[0]}
          y2={p.yDomain[1]}
          fill="none"
          stroke="#000"
          strokeWidth={3}
        />
        <Scatter data={points} shape={dotShape} isAnimationActive={false} />
        <ReferenceLine
          segment={[
            { x: p.fit[0][0], y: p.fit[0][1] },
            { x: p.fit[1][0], y: p.fit[1][1] },
          ]}
          stroke={FIT}
          strokeWidth={2.5}
        />
      </ScatterChart>
    </div>
  );
}

export default function App() {
  return (
    <div style={{ position: "absolute", left: 0, top: 0, width: 3731, height: 2534, background: "#fff" }}>
      {panels.map((p, i) => (
        <Panel key={i} p={p} />
      ))}
      <svg width={3731} height={2534} style={{ position: "absolute", left: 0, top: 0, pointerEvents: "none" }}>
        {panels.map((p, i) => (
          <g key={i} fontFamily={FONT} fontWeight="bold" fill="#000">
            <text x={p.sx} y={p.sy} fontSize={46} style={{ whiteSpace: "pre" }}>
              <tspan fontStyle="italic">r</tspan>
              {" " + statR[i]}
            </text>
            <text x={p.sx} y={p.sy + p.sGap} fontSize={46} style={{ whiteSpace: "pre" }}>
              <tspan fontStyle="italic">P</tspan>
              {statP[i]}
            </text>
            <text x={p.lx} y={p.ly} fontSize={66} textAnchor="middle">
              <tspan fontWeight="normal">(</tspan>
              {letters[i]}
              <tspan fontWeight="normal">)</tspan>
            </text>
          </g>
        ))}
      </svg>
    </div>
  );
}
